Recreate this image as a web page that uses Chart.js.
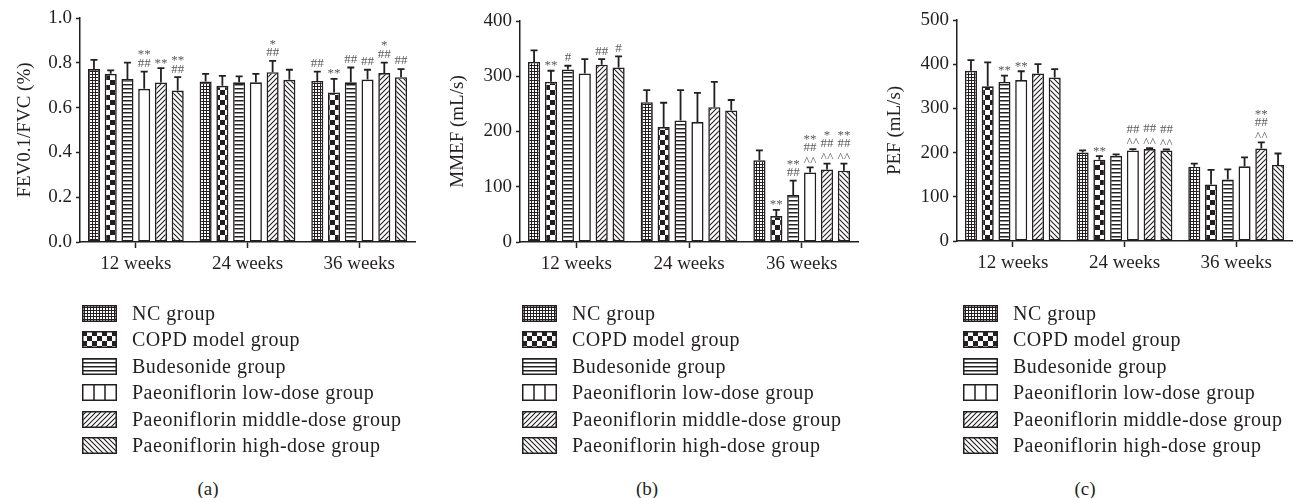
<!DOCTYPE html>
<html lang="en">
<head>
<meta charset="UTF-8">
<title>Lung function</title>
<script src="https://cdn.jsdelivr.net/npm/chart.js@4.4.1/dist/chart.umd.min.js"></script>
<style>
    body { margin: 0; background: #fff; width: 1297px; height: 498px; position: relative; overflow: hidden;
           font-family: "Liberation Serif", "DejaVu Serif", serif; color: #231f20; }
    .panel { position: absolute; top: 0; height: 285px; }
    .legend { position: absolute; top: 300px; font-size: 20px; letter-spacing: 0.5px; }
    .legend div { height: 26.5px; display: flex; align-items: center; white-space: nowrap; }
    .legend canvas { width: 35px; height: 17px; margin-right: 15px; }
    .cap { position: absolute; top: 478px; font-size: 19px; width: 60px; text-align: center; }
</style>
</head>
<body>
    <div class="panel" style="left:0;width:420px"><canvas id="fev"></canvas></div>
    <div class="panel" style="left:430px;width:430px"><canvas id="mmef"></canvas></div>
    <div class="panel" style="left:870px;width:427px"><canvas id="pef"></canvas></div>
    <div class="legend" id="leg0" style="left:82px"></div>
    <div class="legend" id="leg1" style="left:522px"></div>
    <div class="legend" id="leg2" style="left:963px"></div>
    <div class="cap" style="left:178px">(a)</div>
    <div class="cap" style="left:617px">(b)</div>
    <div class="cap" style="left:1055px">(c)</div>
<script>
    const weeks = ['12 weeks', '24 weeks', '36 weeks'];
    const groups = ['NC group', 'COPD model group', 'Budesonide group',
        'Paeoniflorin low-dose group', 'Paeoniflorin middle-dose group', 'Paeoniflorin high-dose group'];

    // one row per group, values for 12 / 24 / 36 weeks
    const fevMean = [[0.772, 0.716, 0.719], [0.751, 0.697, 0.667], [0.728, 0.713, 0.713],
                     [0.684, 0.713, 0.725], [0.712, 0.758, 0.754], [0.676, 0.724, 0.736]];
    const fevErr = [[0.041, 0.035, 0.042], [0.015, 0.045, 0.061], [0.073, 0.026, 0.066],
                    [0.077, 0.038, 0.044], [0.064, 0.051, 0.047], [0.060, 0.045, 0.036]];
    const fevMarks = [['', '', '##'], ['', '', '**'], ['', '', '##'],
                      ['**\n##', '', '##'], ['**', '*\n##', '*\n##'], ['**\n##', '', '##']];

    const mmefMean = [[326, 253, 148], [290, 208, 47], [312, 220, 85],
                      [305, 217, 126], [321, 244, 131], [316, 238, 129]];
    const mmefErr = [[21, 22, 18], [20, 44, 11], [7, 55, 26],
                     [26, 53, 9], [10, 46, 11], [20, 19, 13]];
    const mmefMarks = [['', '', ''], ['**', '', '**'], ['#', '', '**\n##'],
                       ['', '', '**\n##\n^^'], ['##', '', '*\n##\n^^'], ['#', '', '**\n##\n^^']];

    const pefMean = [[385, 200, 168], [350, 184, 128], [360, 193, 139],
                     [364, 205, 169], [379, 208, 209], [370, 205, 172]];
    const pefErr = [[24, 5, 7], [54, 8, 33], [14, 3, 23],
                    [20, 3, 20], [21, 2, 14], [19, 2, 26]];
    const pefMarks = [['', '', ''], ['', '**', ''], ['**', '', ''],
                      ['**', '##\n^^', ''], ['', '##\n^^', '**\n##\n^^'], ['', '##\n^^', '']];

    const ink = '#231f20';
    const font = '"Liberation Serif", "DejaVu Serif", serif';

    // little tiles for the hatch fills
    function tile(kind) {
        const c = document.createElement('canvas');
        const g = c.getContext('2d');
        if (kind === 'dots') {
            c.width = c.height = 3;
            g.fillStyle = ink; g.fillRect(0, 0, 3, 3);
            g.fillStyle = '#fff'; g.fillRect(0, 0, 2, 2);
        } else if (kind === 'checker') {
            c.width = c.height = 10;
            g.fillStyle = '#fff'; g.fillRect(0, 0, 10, 10);
            g.fillStyle = ink; g.fillRect(0, 0, 5, 5); g.fillRect(5, 5, 5, 5);
        } else if (kind === 'hlines') {
            c.width = 4; c.height = 4;
            g.fillStyle = '#fff'; g.fillRect(0, 0, 4, 4);
            g.fillStyle = '#222'; g.fillRect(0, 0, 4, 1.5);
        } else if (kind === 'plain') {
            c.width = c.height = 2;
            g.fillStyle = '#fff'; g.fillRect(0, 0, 2, 2);
        } else {
            c.width = c.height = 5;
            g.fillStyle = '#fff'; g.fillRect(0, 0, 5, 5);
            g.strokeStyle = ink; g.lineWidth = 1.1;
            g.beginPath();
            if (kind === 'fwd') {
                g.moveTo(-1, 1); g.lineTo(1, -1);
                g.moveTo(0, 5); g.lineTo(5, 0);
                g.moveTo(4, 6); g.lineTo(6, 4);
            } else {
                g.moveTo(-1, 4); g.lineTo(1, 6);
                g.moveTo(0, 0); g.lineTo(5, 5);
                g.moveTo(4, -1); g.lineTo(6, 1);
            }
            g.stroke();
        }
        return c;
    }
    const kinds = ['dots', 'checker', 'hlines', 'plain', 'fwd', 'back'];
    const fills = kinds.map(k => {
        const ctx = document.createElement('canvas').getContext('2d');
        return ctx.createPattern(tile(k), 'repeat');
    });

    // error bars (upward only) and significance marks
    const errorBars = {
        id: 'errorBars',
        afterDatasetsDraw(chart) {
            const ctx = chart.ctx;
            const y = chart.scales.y;
            chart.data.datasets.forEach((ds, i) => {
                chart.getDatasetMeta(i).data.forEach((bar, j) => {
                    const top = y.getPixelForValue(ds.data[j] + ds.err[j]);
                    ctx.save();
                    ctx.strokeStyle = ink;
                    ctx.lineWidth = 1.8;
                    ctx.beginPath();
                    ctx.moveTo(bar.x, bar.y);
                    ctx.lineTo(bar.x, top);
                    ctx.moveTo(bar.x - 3.5, top);
                    ctx.lineTo(bar.x + 3.5, top);
                    ctx.stroke();
                    const lines = ds.marks[j] ? ds.marks[j].split('\n') : [];
                    ctx.fillStyle = '#58595b';
                    ctx.font = '13px ' + font;
                    ctx.textAlign = 'center';
                    ctx.textBaseline = 'middle';
                    lines.forEach((s, k) => {
                        let ly = top - 8 - (lines.length - 1 - k) * 11.5;
                        if (s[0] === '*') ly += 3;
                        if (s[0] === '^') ly += 2;
                        const step = 6.5;
                        const x0 = bar.x - (s.length - 1) * step / 2;
                        for (let c = 0; c < s.length; c++) ctx.fillText(s[c], x0 + c * step, ly);
                    });
                    ctx.restore();
                });
            });
        }
    };

    function makePanel(id, means, errs, marks, title, max, step, digits, yWidth, padTop, padRight, titlePad, bottom) {
        new Chart(document.getElementById(id), {
            type: 'bar',
            data: {
                labels: weeks,
                datasets: groups.map((g, i) => ({
                    label: g,
                    data: means[i],
                    err: errs[i],
                    marks: marks[i],
                    backgroundColor: fills[i],
                    borderColor: ink,
                    borderWidth: 1.6,
                    borderSkipped: false,
                    barPercentage: 0.72,
                    categoryPercentage: 0.9
                }))
            },
            options: {
                responsive: true,
                maintainAspectRatio: false,
                animation: false,
                layout: { padding: { top: padTop, right: padRight, left: 0, bottom: 0 } },
                plugins: { legend: { display: false }, tooltip: { enabled: false } },
                scales: {
                    x: {
                        offset: true,
                        grid: { display: true, drawOnChartArea: false, offset: false, tickLength: 6, tickWidth: 1.5, tickColor: ink },
                        border: { color: ink, width: 1.5 },
                        ticks: { color: ink, font: { family: font, size: 19 }, padding: 5, maxRotation: 0 },
                        afterFit: s => { s.height = 285 - bottom; }
                    },
                    y: {
                        min: 0,
                        max: max,
                        grid: { display: true, drawOnChartArea: false, tickLength: 4, tickWidth: 1.5, tickColor: ink },
                        border: { color: ink, width: 1.5 },
                        ticks: { stepSize: step, color: ink, font: { family: font, size: 19 }, padding: 4,
                                 callback: v => v.toFixed(digits) },
                        title: { display: true, text: title, color: ink, font: { family: font, size: 19 },
                                 padding: { top: titlePad, bottom: 0 } },
                        afterFit: s => { s.width = yWidth; }
                    }
                }
            },
            plugins: [errorBars]
        });
    }

    makePanel('fev', fevMean, fevErr, fevMarks, 'FEV0.1/FVC (%)', 1, 0.2, 1, 80, 18, 5, 13.6, 242);
    makePanel('mmef', mmefMean, mmefErr, mmefMarks, 'MMEF (mL/s)', 400, 100, 0, 90, 21, 2, 16.6, 242);
    makePanel('pef', pefMean, pefErr, pefMarks, 'PEF (mL/s)', 500, 100, 0, 87, 20, 5, 13.6, 241);

    // legend swatches
    function swatch(i) {
        const c = document.createElement('canvas');
        c.width = 35; c.height = 17;
        const g = c.getContext('2d');
        g.fillStyle = fills[i];
        g.fillRect(0, 0, 35, 17);
        g.strokeStyle = ink;
        g.lineWidth = 1.5;
        if (kinds[i] === 'plain') {
            g.beginPath();
            g.moveTo(12, 0); g.lineTo(12, 17);
            g.moveTo(23, 0); g.lineTo(23, 17);
            g.stroke();
        }
        g.strokeRect(0.75, 0.75, 33.5, 15.5);
        return c;
    }
    ['leg0', 'leg1', 'leg2'].forEach(id => {
        const box = document.getElementById(id);
        groups.forEach((g, i) => {
            const row = document.createElement('div');
            row.appendChild(swatch(i));
            row.appendChild(document.createTextNode(g));
            box.appendChild(row);
        });
    });
</script>
</body>
</html>
